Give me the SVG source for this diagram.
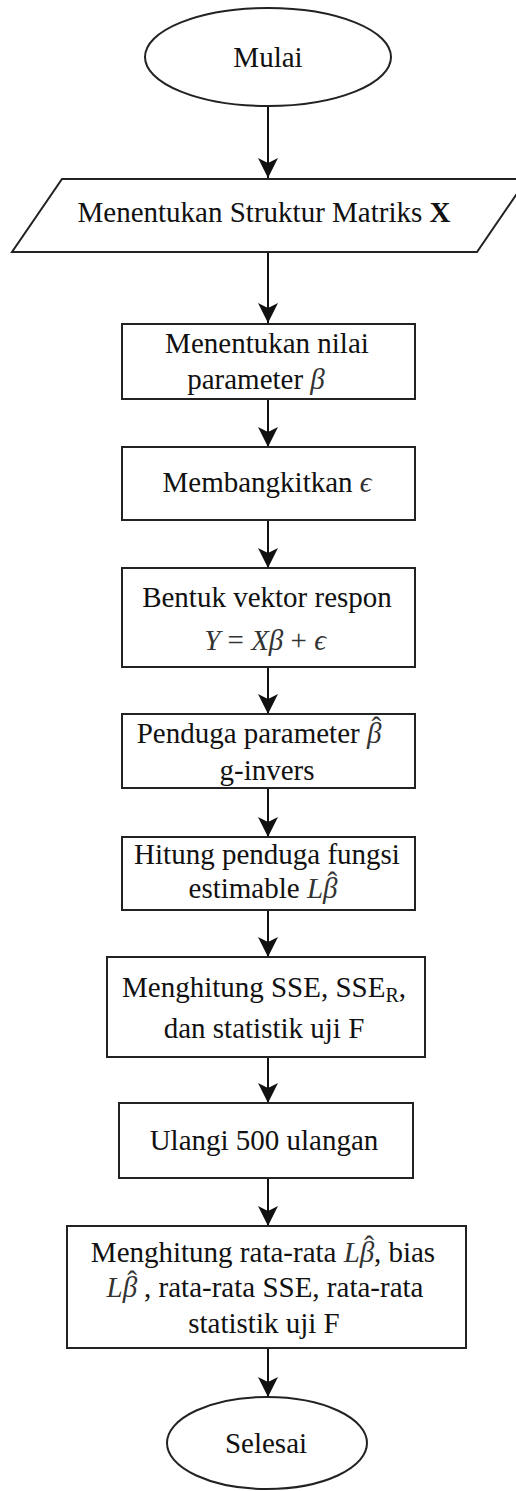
<svg xmlns="http://www.w3.org/2000/svg" width="516" height="1491" viewBox="0 0 516 1491">
<defs>
<marker id="arr" markerWidth="20" markerHeight="20" refX="20" refY="10" orient="auto" markerUnits="userSpaceOnUse">
<path d="M0,0 L20,10 L0,20 L5,10 Z" fill="#111"/>
</marker>
<style>
.shape{fill:#fff;stroke:#222;stroke-width:2}
.t{font-family:"Liberation Serif","Times New Roman",serif;font-size:29px;fill:#111;text-anchor:middle}
.m{font-family:"Liberation Serif","DejaVu Serif",serif;font-style:italic;fill:#333}
.mu{font-family:"Liberation Serif","DejaVu Serif",serif;fill:#333}
.c{stroke:#111;stroke-width:2;fill:none}
</style>
</defs>
<rect width="516" height="1491" fill="#fff"/>
<g id="connectors">
<line class="c" x1="268" y1="106" x2="268" y2="178" marker-end="url(#arr)"/>
<line class="c" x1="268" y1="252" x2="268" y2="323" marker-end="url(#arr)"/>
<line class="c" x1="268" y1="399" x2="268" y2="447" marker-end="url(#arr)"/>
<line class="c" x1="268" y1="520" x2="268" y2="568" marker-end="url(#arr)"/>
<line class="c" x1="268" y1="667" x2="268" y2="714" marker-end="url(#arr)"/>
<line class="c" x1="268" y1="788" x2="268" y2="837" marker-end="url(#arr)"/>
<line class="c" x1="268" y1="910" x2="268" y2="957" marker-end="url(#arr)"/>
<line class="c" x1="268" y1="1057" x2="268" y2="1103" marker-end="url(#arr)"/>
<line class="c" x1="268" y1="1178" x2="268" y2="1226" marker-end="url(#arr)"/>
<line class="c" x1="268" y1="1348" x2="268" y2="1397" marker-end="url(#arr)"/>
</g>
<g id="start">
<ellipse class="shape" cx="268" cy="57" rx="123" ry="49"/>
<text class="t" x="268" y="67">Mulai</text>
</g>
<g id="input">
<polygon class="shape" points="62,179 527,179 477,252 12,252"/>
<text class="t" x="264" y="222">Menentukan Struktur Matriks <tspan font-weight="bold">X</tspan></text>
</g>
<g id="step1">
<rect class="shape" x="122" y="324" width="293" height="75"/>
<text class="t" x="267" y="353">Menentukan nilai</text>
<text class="t" x="256" y="389">parameter <tspan class="m">β</tspan></text>
</g>
<g id="step2">
<rect class="shape" x="122" y="447" width="293" height="73"/>
<text class="t" x="267" y="492">Membangkitkan <tspan class="m">ϵ</tspan></text>
</g>
<g id="step3">
<rect class="shape" x="122" y="568" width="293" height="99"/>
<text class="t" x="267" y="607">Bentuk vektor respon</text>
<text class="t" x="265" y="650"><tspan class="m">Y</tspan><tspan class="mu"> = </tspan><tspan class="m">Xβ</tspan><tspan class="mu"> + </tspan><tspan class="m">ϵ</tspan></text>
</g>
<g id="step4">
<rect class="shape" x="122" y="714" width="293" height="74"/>
<text class="t" x="259" y="743">Penduga parameter <tspan class="m">β</tspan><tspan class="mu" dx="-10" dy="-6">ˆ</tspan><tspan dy="6"> </tspan></text>
<text class="t" x="267" y="780">g-invers</text>
</g>
<g id="step5">
<rect class="shape" x="122" y="837" width="293" height="73"/>
<text class="t" x="267" y="864">Hitung penduga fungsi</text>
<text class="t" x="263" y="898">estimable <tspan class="m">Lβ</tspan><tspan class="mu" dx="-10" dy="-6">ˆ</tspan><tspan dy="6"> </tspan></text>
</g>
<g id="step6">
<rect class="shape" x="107" y="957" width="318" height="100"/>
<text class="t" x="264" y="997">Menghitung SSE, SSE<tspan font-size="20" dy="5">R</tspan><tspan dy="-5">,</tspan></text>
<text class="t" x="264" y="1038">dan statistik uji F</text>
</g>
<g id="step7">
<rect class="shape" x="119" y="1103" width="294" height="75"/>
<text class="t" x="264" y="1150">Ulangi 500 ulangan</text>
</g>
<g id="step8">
<rect class="shape" x="67" y="1226" width="399" height="122"/>
<text class="t" x="263" y="1262">Menghitung rata-rata <tspan class="m">Lβ</tspan><tspan class="mu" dx="-10" dy="-6">ˆ</tspan><tspan dy="6">, bias</tspan></text>
<text class="t" x="265" y="1297"><tspan class="m">Lβ</tspan><tspan class="mu" dx="-10" dy="-6">ˆ</tspan><tspan dy="6"> , rata-rata SSE, rata-rata</tspan></text>
<text class="t" x="264" y="1333">statistik uji F</text>
</g>
<g id="end">
<ellipse class="shape" cx="267" cy="1443" rx="100" ry="46"/>
<text class="t" x="266" y="1453">Selesai</text>
</g>
</svg>
